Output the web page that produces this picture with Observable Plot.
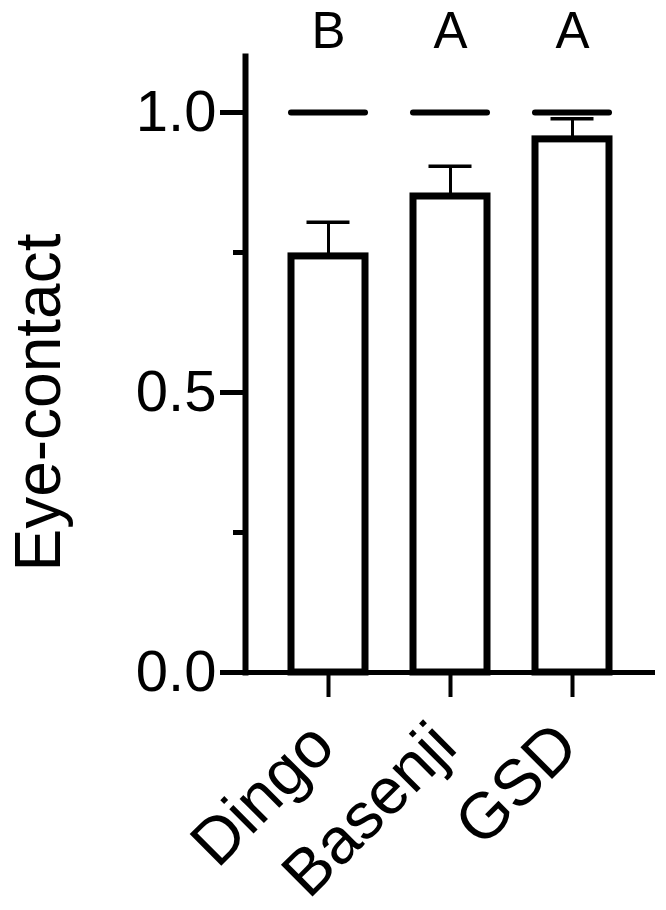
<!DOCTYPE html>
<html>
<head>
<meta charset="utf-8">
<script src="https://cdn.jsdelivr.net/npm/d3@7"></script>
<script src="https://cdn.jsdelivr.net/npm/@observablehq/plot@0.6"></script>
<style>
  html, body { margin: 0; padding: 0; background: #fff; }
</style>
</head>
<body>
<div id="chart"></div>
<script>
const categories = ["Dingo", "Basenji", "GSD"];
const means = [0.743, 0.850, 0.952];
const errorTops = [0.804, 0.904, 0.989];
const letters = ["B", "A", "A"];
const referenceValue = 1.0;
const yTickValues = [0, 0.5, 1.0];
const yMinorTickValues = [0.25, 0.75];
const yLabel = "Eye-contact";

const rows = categories.map((c, i) => ({cat: c, mean: means[i], top: errorTops[i], letter: letters[i], ref: referenceValue}));

const font = "'Liberation Sans', Arial, Helvetica, sans-serif";

const chart = Plot.plot({
  width: 666,
  height: 910,
  marginLeft: 245,
  marginRight: 11,
  marginTop: 56,
  marginBottom: 238,
  style: {fontFamily: font, background: "white", color: "black"},
  x: {domain: categories, paddingInner: 0.396, paddingOuter: 0.376, axis: null},
  y: {domain: [0, 1.1], axis: null},
  marks: [
    Plot.ruleX(rows, {x: "cat", y1: "mean", y2: "top", stroke: "black", strokeWidth: 3}),
    Plot.tickY(rows, {x: "cat", y: "top", stroke: "black", strokeWidth: 3.5, insetLeft: 15.5, insetRight: 15.5}),
    Plot.barY(rows, {x: "cat", y: "mean", fill: "white", stroke: "black", strokeWidth: 7}),
    Plot.tickY(rows, {x: "cat", y: "ref", stroke: "black", strokeWidth: 6, strokeLinecap: "round"}),
    Plot.ruleY([0], {stroke: "black", strokeWidth: 5}),
    Plot.frame({anchor: "left", stroke: "black", strokeWidth: 6}),
    Plot.axisY({ticks: yTickValues, tickSize: 25, tickPadding: 4, fontSize: 58, tickFormat: d3.format(".1f"), strokeWidth: 5, label: null}),
    Plot.axisY({ticks: yMinorTickValues, tickSize: 12, tickFormat: () => "", strokeWidth: 5, label: null}),
    Plot.axisX({tickSize: 25, tickFormat: () => "", strokeWidth: 4, label: null}),
    Plot.text(rows, {x: "cat", text: "cat", frameAnchor: "bottom", rotate: -45, textAnchor: "end", lineAnchor: "bottom", dx: 9, dy: 77, fontSize: 65}),
    Plot.text(rows, {x: "cat", text: "letter", frameAnchor: "top", lineAnchor: "bottom", dy: -9, fontSize: 51}),
    Plot.text([yLabel], {frameAnchor: "left", rotate: -90, textAnchor: "middle", lineAnchor: "bottom", dx: -186, dy: 38, fontSize: 64})
  ]
});
document.getElementById("chart").appendChild(chart);
</script>
</body>
</html>
